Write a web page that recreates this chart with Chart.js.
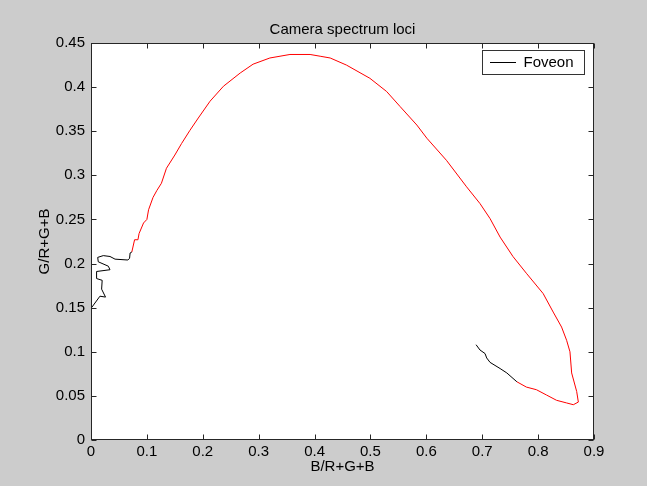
<!DOCTYPE html>
<html><head><meta charset="utf-8">
<script src="https://cdn.jsdelivr.net/npm/chart.js@4/dist/chart.umd.min.js"></script>
<style>html,body{margin:0;padding:0;background:#cccccc;}canvas{display:block;}</style>
</head><body>
<canvas id="c" width="647" height="486"></canvas>
<script>
// ---- data (B/(R+G+B), G/(R+G+B)) ----
const leftTailX = [0.001, 0.016, 0.026, 0.019, 0.020, 0.010, 0.010, 0.034, 0.031, 0.013, 0.012, 0.022, 0.034, 0.043, 0.066, 0.069, 0.070, 0.073];
const leftTailY = [0.150, 0.163, 0.162, 0.171, 0.181, 0.183, 0.191, 0.193, 0.197, 0.202, 0.207, 0.209, 0.208, 0.205, 0.204, 0.206, 0.212, 0.213];

const mainX = [0.073, 0.078, 0.084, 0.086, 0.094, 0.100, 0.103, 0.111, 0.118, 0.126, 0.135, 0.150, 0.162, 0.177, 0.192, 0.213, 0.237, 0.267, 0.290, 0.320, 0.356, 0.392, 0.410, 0.428, 0.457, 0.499, 0.529, 0.553, 0.583, 0.601, 0.636, 0.672, 0.696, 0.714, 0.732, 0.755, 0.779, 0.809, 0.827, 0.842, 0.851, 0.857, 0.860, 0.869, 0.872, 0.863, 0.851, 0.833, 0.815, 0.797, 0.779, 0.762];
const mainY = [0.213, 0.227, 0.227, 0.234, 0.246, 0.250, 0.261, 0.275, 0.283, 0.291, 0.308, 0.323, 0.336, 0.351, 0.365, 0.384, 0.401, 0.416, 0.426, 0.433, 0.437, 0.437, 0.435, 0.433, 0.425, 0.410, 0.395, 0.378, 0.357, 0.342, 0.317, 0.287, 0.268, 0.251, 0.230, 0.208, 0.189, 0.166, 0.145, 0.128, 0.113, 0.100, 0.076, 0.055, 0.043, 0.040, 0.042, 0.045, 0.051, 0.057, 0.060, 0.066];

const rightTailX = [0.762, 0.744, 0.732, 0.714, 0.708, 0.705, 0.696, 0.689];
const rightTailY = [0.066, 0.076, 0.081, 0.088, 0.093, 0.098, 0.102, 0.108];

const xTickLabels = ['0', '0.1', '0.2', '0.3', '0.4', '0.5', '0.6', '0.7', '0.8', '0.9'];
const yTickLabels = ['0', '0.05', '0.1', '0.15', '0.2', '0.25', '0.3', '0.35', '0.4', '0.45'];

const toPts = (xs, ys) => xs.map((x, i) => ({x: x, y: ys[i]}));
const FONT = "'Liberation Sans', Arial, sans-serif";
const LEGEND_FONT_SIZE = 15, LEGEND_LINE_W = 26;

const bgPlugin = {
  id: 'bg',
  afterLayout(chart) {
    const a = chart.chartArea;
    // centre the title over the axes box, MATLAB style
    if (chart.titleBlock) { chart.titleBlock.left = a.left; chart.titleBlock.right = a.right; }
    // place the legend in the top-right corner of the axes
    const lg = chart.legend;
    if (lg) {
      const w = lg.width, h = lg.height;
      lg.left = 490; lg.top = 55; lg.right = lg.left + w; lg.bottom = lg.top + h;
      if (lg.adjustHitBoxes) lg.adjustHitBoxes();
    }
  },
  beforeDraw(chart) {
    const {ctx, chartArea: a} = chart;
    ctx.save();
    ctx.fillStyle = '#cccccc';
    ctx.fillRect(0, 0, chart.width, chart.height);
    ctx.fillStyle = '#ffffff';
    ctx.fillRect(a.left, a.top, a.right - a.left, a.bottom - a.top);
    ctx.restore();
  }
};

const boxPlugin = {
  id: 'box',
  afterDraw(chart) {
    const {ctx, chartArea: a, scales} = chart;
    ctx.save();
    ctx.strokeStyle = '#262626';
    ctx.lineWidth = 1;
    const L = Math.round(a.left) + 0.5, R = Math.round(a.right) - 0.5;
    const T = Math.round(a.top) + 0.5, B = Math.round(a.bottom) - 0.5;
    ctx.strokeRect(L, T, R - L, B - T);
    const tl = 5;
    ctx.beginPath();
    scales.x.ticks.forEach(t => {
      const px = Math.round(scales.x.getPixelForValue(t.value)) + 0.5;
      ctx.moveTo(px, B); ctx.lineTo(px, B - tl);
      ctx.moveTo(px, T); ctx.lineTo(px, T + tl);
    });
    scales.y.ticks.forEach(t => {
      const py = Math.round(scales.y.getPixelForValue(t.value)) + 0.5;
      ctx.moveTo(L, py); ctx.lineTo(L + tl, py);
      ctx.moveTo(R, py); ctx.lineTo(R - tl, py);
    });
    ctx.stroke();
    // legend frame around the legend item
    const lg = chart.legend;
    if (lg && lg.legendItems && lg.legendItems.length) {
      ctx.font = LEGEND_FONT_SIZE + 'px ' + FONT;
      const tw = ctx.measureText(lg.legendItems[0].text).width;
      const x0 = Math.round(lg.left - 8) + 0.5, y0 = Math.round(lg.top - 5) + 0.5;
      const x1 = Math.round(lg.left + LEGEND_LINE_W + LEGEND_FONT_SIZE / 2 + tw + 10) + 0.5;
      const y1 = Math.round(lg.top + LEGEND_FONT_SIZE + 4) + 0.5;
      ctx.strokeStyle = '#333333';
      ctx.strokeRect(x0, y0, x1 - x0, y1 - y0);
    }
    ctx.restore();
  }
};

const lineDs = (label, pts, color) => ({
  label: label, data: pts, showLine: true, borderColor: color, backgroundColor: color,
  borderWidth: 1, pointRadius: 0, pointHoverRadius: 0, tension: 0, fill: false
});

new Chart(document.getElementById('c'), {
  type: 'scatter',
  data: {
    datasets: [
      lineDs('Foveon', toPts(leftTailX, leftTailY), '#000000'),
      lineDs('', toPts(rightTailX, rightTailY), '#000000'),
      lineDs('', toPts(mainX, mainY), '#ff0000')
    ]
  },
  options: {
    responsive: false,
    animation: false,
    events: [],
    layout: {padding: {left: 0, right: 53, top: 0, bottom: 0}},
    plugins: {
      title: {
        display: true, text: 'Camera spectrum loci', color: '#000000',
        font: {family: FONT, size: 15, weight: 'normal'},
        padding: {top: 21, bottom: 4}
      },
      legend: {
        position: 'chartArea', align: 'start',
        labels: {
          filter: (item) => item.text === 'Foveon',
          usePointStyle: true, pointStyle: 'line', pointStyleWidth: LEGEND_LINE_W,
          color: '#000000', font: {family: FONT, size: LEGEND_FONT_SIZE}, padding: 0
        }
      },
      tooltip: {enabled: false}
    },
    scales: {
      x: {
        type: 'linear', min: 0, max: 0.9,
        ticks: {stepSize: 0.1, autoSkip: false, maxRotation: 0, padding: 3,
          color: '#000000', font: {family: FONT, size: 15},
          callback: (v, i) => xTickLabels[i]},
        grid: {display: false, drawTicks: false},
        border: {display: false},
        title: {display: true, text: 'B/R+G+B', color: '#000000',
          font: {family: FONT, size: 15}, padding: {top: 0, bottom: 10}},
        afterFit: (s) => { s.height = 46; }
      },
      y: {
        type: 'linear', min: 0, max: 0.45,
        ticks: {stepSize: 0.05, autoSkip: false, padding: 6,
          color: '#000000', font: {family: FONT, size: 15},
          callback: (v, i) => yTickLabels[i]},
        grid: {display: false, drawTicks: false},
        border: {display: false},
        title: {display: true, text: 'G/R+G+B', color: '#000000',
          font: {family: FONT, size: 15}, padding: {top: 36, bottom: 0}},
        afterFit: (s) => { s.width = 91; }
      }
    }
  },
  plugins: [bgPlugin, boxPlugin]
});
</script>
</body></html>
